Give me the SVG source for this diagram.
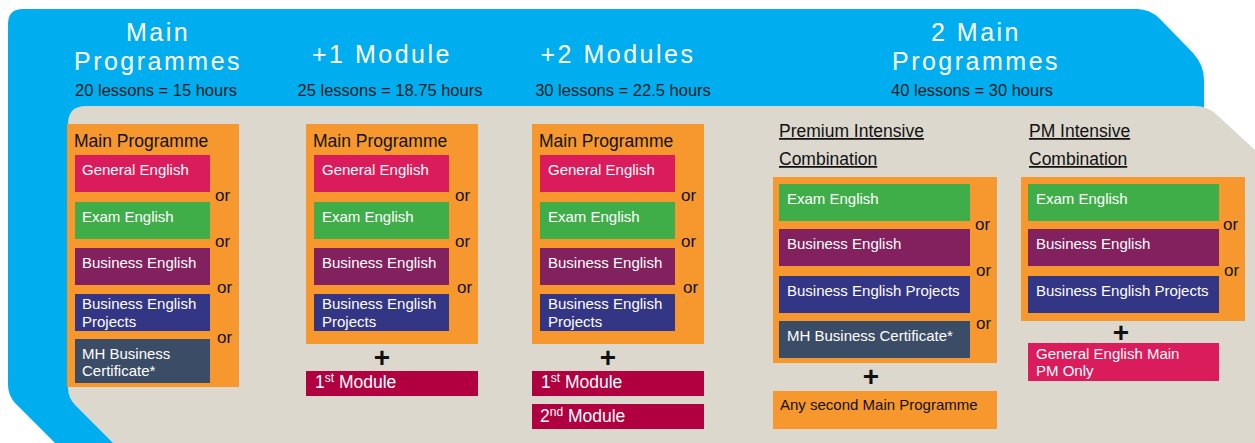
<svg xmlns="http://www.w3.org/2000/svg" width="1255" height="443" viewBox="0 0 1255 443">
<style>
.h{font-family:"Liberation Sans",Arial,sans-serif;font-size:25px;fill:#fff;letter-spacing:2.5px;text-anchor:middle}
.sub{font-family:"Liberation Sans",Arial,sans-serif;font-size:16.5px;fill:#1b1b1b;text-anchor:middle}
.lbl{font-family:"Liberation Sans",Arial,sans-serif;font-size:17.5px;fill:#111}
.ul{text-decoration:underline}
.w{font-family:"Liberation Sans",Arial,sans-serif;font-size:15px;fill:#fff}
.b{font-family:"Liberation Sans",Arial,sans-serif;font-size:15px;fill:#111}
.mod{font-family:"Liberation Sans",Arial,sans-serif;font-size:17.5px;fill:#fff}
.or{font-family:"Liberation Sans",Arial,sans-serif;font-size:17px;fill:#111}
.plus{font-family:"Liberation Sans",Arial,sans-serif;font-size:28px;font-weight:bold;fill:#111;text-anchor:middle}
.org{fill:#F7982E}
.ge{fill:#DA1C5C}
.ee{fill:#3FAE49}
.be{fill:#83215E}
.bep{fill:#323685}
.mh{fill:#3B4D66}
.md{fill:#B0003F}
</style>
<g id="background">
<path d="M8,24 Q8,9 23,9 L1137,9 Q1150,9 1160,19 L1193,53 Q1204,65 1204,80 L1204,112 L200,112 L200,443 L55,443 L16,404 Q8,396 8,385 Z" fill="#00AEEF"/>
<path d="M68,124 Q68,106 86,106 L1195,106 Q1207,106 1216,114 L1255,150 L1255,443 L113,443 L76,406 Q68,398 68,388 Z" fill="#DCD8CE"/>
</g>
<g id="headers">
<text class="h" x="158" y="41">Main</text>
<text class="h" x="158" y="70">Programmes</text>
<text class="sub" x="156" y="96">20 lessons = 15 hours</text>
<text class="h" x="382" y="63">+1 Module</text>
<text class="sub" x="390" y="96">25 lessons = 18.75 hours</text>
<text class="h" x="618" y="63">+2 Modules</text>
<text class="sub" x="623" y="96">30 lessons = 22.5 hours</text>
<text class="h" x="976" y="41">2 Main</text>
<text class="h" x="976" y="70">Programmes</text>
<text class="sub" x="972" y="96">40 lessons = 30 hours</text>
</g>
<g id="col1">
<rect class="org" x="67" y="124" width="172" height="263"/>
<text class="lbl" x="74" y="147">Main Programme</text>
<rect class="ge" x="75" y="155" width="135" height="37"/>
<text class="w" x="82" y="175">General English</text>
<text class="or" x="215" y="201">or</text>
<rect class="ee" x="75" y="202" width="135" height="37"/>
<text class="w" x="82" y="222">Exam English</text>
<text class="or" x="215" y="247">or</text>
<rect class="be" x="75" y="248" width="135" height="37"/>
<text class="w" x="82" y="268">Business English</text>
<text class="or" x="217" y="293">or</text>
<rect class="bep" x="75" y="294" width="135" height="37"/>
<text class="w" x="82" y="309">Business English</text>
<text class="w" x="82" y="327">Projects</text>
<text class="or" x="217" y="343">or</text>
<rect class="mh" x="75" y="339" width="135" height="44"/>
<text class="w" x="82" y="359">MH Business</text>
<text class="w" x="82" y="376">Certificate*</text>
</g>
<g id="col2">
<rect class="org" x="306" y="124" width="172" height="220"/>
<text class="lbl" x="313" y="147">Main Programme</text>
<rect class="ge" x="314" y="155" width="135" height="37"/>
<text class="w" x="322" y="175">General English</text>
<text class="or" x="455" y="201">or</text>
<rect class="ee" x="314" y="202" width="135" height="37"/>
<text class="w" x="322" y="222">Exam English</text>
<text class="or" x="455" y="247">or</text>
<rect class="be" x="314" y="248" width="135" height="37"/>
<text class="w" x="322" y="268">Business English</text>
<text class="or" x="457" y="293">or</text>
<rect class="bep" x="314" y="294" width="135" height="37"/>
<text class="w" x="322" y="309">Business English</text>
<text class="w" x="322" y="327">Projects</text>
<text class="plus" x="382" y="367">+</text>
<rect class="md" x="306" y="371" width="172" height="25"/>
<text class="mod" x="315" y="388">1<tspan font-size="12" dy="-6">st</tspan><tspan dy="6"> Module</tspan></text>
</g>
<g id="col3">
<rect class="org" x="532" y="124" width="172" height="220"/>
<text class="lbl" x="539" y="147">Main Programme</text>
<rect class="ge" x="540" y="155" width="135" height="37"/>
<text class="w" x="548" y="175">General English</text>
<text class="or" x="681" y="201">or</text>
<rect class="ee" x="540" y="202" width="135" height="37"/>
<text class="w" x="548" y="222">Exam English</text>
<text class="or" x="681" y="247">or</text>
<rect class="be" x="540" y="248" width="135" height="37"/>
<text class="w" x="548" y="268">Business English</text>
<text class="or" x="683" y="293">or</text>
<rect class="bep" x="540" y="294" width="135" height="37"/>
<text class="w" x="548" y="309">Business English</text>
<text class="w" x="548" y="327">Projects</text>
<text class="plus" x="608" y="367">+</text>
<rect class="md" x="532" y="371" width="172" height="25"/>
<text class="mod" x="541" y="388">1<tspan font-size="12" dy="-6">st</tspan><tspan dy="6"> Module</tspan></text>
<rect class="md" x="532" y="404" width="172" height="25"/>
<text class="mod" x="540" y="422">2<tspan font-size="12" dy="-6">nd</tspan><tspan dy="6"> Module</tspan></text>
</g>
<g id="col4">
<text class="lbl ul" x="779" y="137">Premium Intensive</text>
<text class="lbl ul" x="779" y="165">Combination</text>
<rect class="org" x="773" y="177" width="224" height="186"/>
<rect class="ee" x="779" y="184" width="191" height="37"/>
<text class="w" x="787" y="204">Exam English</text>
<text class="or" x="975" y="230">or</text>
<rect class="be" x="779" y="229" width="191" height="37"/>
<text class="w" x="787" y="249">Business English</text>
<text class="or" x="976" y="276">or</text>
<rect class="bep" x="779" y="276" width="191" height="37"/>
<text class="w" x="787" y="296">Business English Projects</text>
<text class="or" x="976" y="329">or</text>
<rect class="mh" x="779" y="321" width="191" height="37"/>
<text class="w" x="787" y="341">MH Business Certificate*</text>
<text class="plus" x="871" y="386">+</text>
<rect class="org" x="773" y="391" width="224" height="38"/>
<text class="b" x="780" y="410">Any second Main Programme</text>
</g>
<g id="col5">
<text class="lbl ul" x="1029" y="137">PM Intensive</text>
<text class="lbl ul" x="1029" y="165">Combination</text>
<rect class="org" x="1021" y="177" width="224" height="144"/>
<rect class="ee" x="1028" y="184" width="191" height="37"/>
<text class="w" x="1036" y="204">Exam English</text>
<text class="or" x="1223" y="230">or</text>
<rect class="be" x="1028" y="229" width="191" height="37"/>
<text class="w" x="1036" y="249">Business English</text>
<text class="or" x="1224" y="276">or</text>
<rect class="bep" x="1028" y="276" width="191" height="37"/>
<text class="w" x="1036" y="296">Business English Projects</text>
<text class="plus" x="1121" y="342">+</text>
<rect class="ge" x="1028" y="343" width="191" height="38"/>
<text class="w" x="1036" y="359">General English Main</text>
<text class="w" x="1036" y="376">PM Only</text>
</g>
<g id="connectors"></g>
</svg>
